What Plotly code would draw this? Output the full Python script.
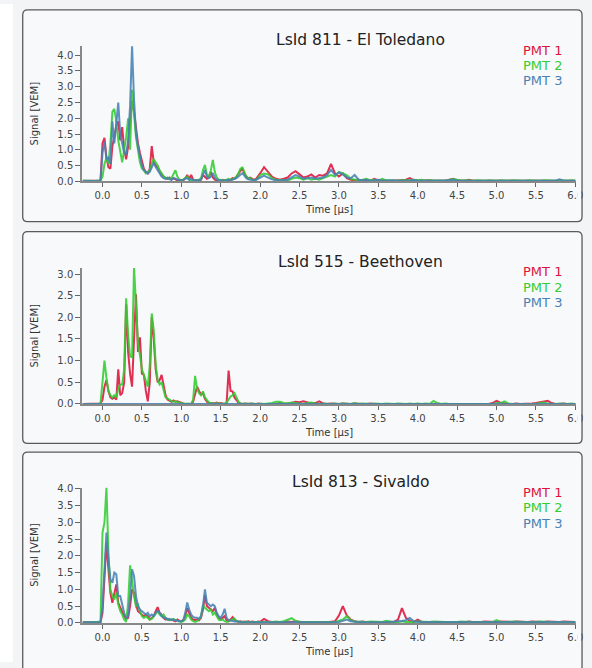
import numpy as np
import plotly.graph_objects as go

W, H = 592, 668

# ---------------- sample times (µs) ----------------
t_fine = np.round(np.arange(-0.25, 2.0 + 1e-9, 0.025), 3)    # 91 samples
t_tail = np.round(np.arange(2.05, 6.0 + 1e-9, 0.05), 3)      # 80 samples
t_all = np.concatenate([t_fine, t_tail])

titles = ["LsId 811 - El Toledano", "LsId 515 - Beethoven", "LsId 813 - Sivaldo"]
pmt_names = ["PMT 1", "PMT 2", "PMT 3"]
x_ticks = [0.0, 0.5, 1.0, 1.5, 2.0, 2.5, 3.0, 3.5, 4.0, 4.5, 5.0, 5.5, 6.0]
x_ticktext = ["0.0", "0.5", "1.0", "1.5", "2.0", "2.5", "3.0", "3.5", "4.0", "4.5", "5.0", "5.5", "6.0"]
y_ticks = [[0.0, 0.5, 1.0, 1.5, 2.0, 2.5, 3.0, 3.5, 4.0],
           [0.0, 0.5, 1.0, 1.5, 2.0, 2.5, 3.0],
           [0.0, 0.5, 1.0, 1.5, 2.0, 2.5, 3.0, 3.5, 4.0]]
y_max = [4.28, 3.14, 4.04]

# ---------------- LsId 811 ----------------
s811_pmt1_fine = [
    0.02, 0.01, 0.02, 0.01, 0.02, 0.01, 0.02, 0.02, 0.01, 0.05,
    1.2, 1.38, 0.75, 0.45, 0.4, 1.1, 1.5, 1.75, 1.9, 1.3,
    1.72, 1.0, 0.7, 1.1, 1.9, 2.55, 2.2, 1.6, 1.2, 0.9,
    0.6, 0.4, 0.3, 0.25, 0.4, 1.12, 0.6, 0.5, 0.45, 0.3,
    0.2, 0.15, 0.1, 0.08, 0.12, 0.05, 0.1, 0.05, 0.03, 0.05,
    0.04, 0.03, 0.1, 0.2, 0.08, 0.2, 0.05, 0.03, 0.02, 0.03,
    0.05, 0.2, 0.15, 0.08, 0.15, 0.3, 0.12, 0.05, 0.03, 0.02,
    0.03, 0.05, 0.03, 0.02, 0.03, 0.05, 0.1, 0.08, 0.15, 0.25,
    0.35, 0.42, 0.25, 0.15, 0.1, 0.12, 0.08, 0.05, 0.08, 0.15,
    0.25]
s811_pmt1_tail = [
    0.45, 0.3, 0.15, 0.08, 0.05, 0.08, 0.12, 0.25, 0.32, 0.22,
    0.12, 0.15, 0.22, 0.12, 0.2, 0.18, 0.25, 0.55, 0.25, 0.15,
    0.25, 0.1, 0.05, 0.03, 0.05, 0.03, 0.05, 0.02, 0.08, 0.03,
    0.02, 0.03, 0.02, 0.02, 0.03, 0.02, 0.05, 0.1, 0.03, 0.02,
    0.03, 0.02, 0.03, 0.02, 0.02, 0.03, 0.02, 0.05, 0.08, 0.03,
    0.02, 0.02, 0.05, 0.02, 0.02, 0.03, 0.02, 0.02, 0.03, 0.02,
    0.02, 0.03, 0.02, 0.02, 0.02, 0.03, 0.02, 0.02, 0.02, 0.03,
    0.02, 0.02, 0.02, 0.03, 0.02, 0.02, 0.02, 0.03, 0.02, 0.02]
s811_pmt2_fine = [
    0.02, 0.01, 0.02, 0.02, 0.01, 0.02, 0.01, 0.02, 0.02, 0.03,
    0.15, 0.55, 0.75, 0.55, 1.2, 2.2, 2.3, 1.9, 1.3, 0.9,
    0.6, 1.0, 1.4, 2.0, 1.0, 2.9, 2.1, 1.4, 1.0, 0.6,
    0.4, 0.35, 0.25, 0.3, 0.35, 0.55, 0.7, 0.6, 0.5, 0.35,
    0.25, 0.15, 0.08, 0.12, 0.08, 0.1, 0.25, 0.35, 0.15, 0.05,
    0.03, 0.05, 0.1, 0.15, 0.05, 0.03, 0.05, 0.03, 0.03, 0.05,
    0.1, 0.35, 0.52, 0.2, 0.15, 0.35, 0.68, 0.3, 0.12, 0.05,
    0.04, 0.05, 0.03, 0.05, 0.08, 0.05, 0.06, 0.1, 0.15, 0.25,
    0.4, 0.44, 0.3, 0.15, 0.08, 0.1, 0.05, 0.03, 0.05, 0.1,
    0.2]
s811_pmt2_tail = [
    0.25, 0.22, 0.1, 0.05, 0.03, 0.05, 0.03, 0.08, 0.12, 0.1,
    0.05, 0.1, 0.05, 0.08, 0.05, 0.1, 0.15, 0.2, 0.15, 0.3,
    0.25, 0.2, 0.08, 0.05, 0.03, 0.05, 0.08, 0.03, 0.05, 0.02,
    0.08, 0.03, 0.02, 0.03, 0.02, 0.03, 0.02, 0.03, 0.05, 0.03,
    0.05, 0.02, 0.03, 0.02, 0.03, 0.02, 0.02, 0.05, 0.07, 0.05,
    0.02, 0.03, 0.02, 0.02, 0.03, 0.02, 0.02, 0.03, 0.02, 0.02,
    0.03, 0.02, 0.02, 0.03, 0.02, 0.02, 0.02, 0.03, 0.02, 0.02,
    0.02, 0.03, 0.02, 0.02, 0.02, 0.03, 0.02, 0.02, 0.03, 0.02]
s811_pmt3_fine = [
    0.01, 0.02, 0.01, 0.02, 0.01, 0.01, 0.02, 0.01, 0.02, 0.02,
    0.9, 1.26, 0.7, 0.75, 0.55, 1.9, 1.2, 2.0, 2.5, 1.5,
    1.2, 0.9, 0.85, 1.3, 2.4, 4.3, 2.6, 1.5, 1.1, 0.8,
    0.5, 0.35, 0.3, 0.25, 0.3, 0.45, 0.58, 0.45, 0.35, 0.25,
    0.15, 0.1, 0.08, 0.1, 0.06, 0.05, 0.1, 0.08, 0.05, 0.03,
    0.03, 0.05, 0.08, 0.1, 0.05, 0.08, 0.04, 0.03, 0.02, 0.03,
    0.05, 0.2, 0.36, 0.15, 0.1, 0.15, 0.26, 0.12, 0.05, 0.03,
    0.02, 0.03, 0.02, 0.03, 0.05, 0.03, 0.05, 0.08, 0.1, 0.15,
    0.22, 0.26, 0.18, 0.1, 0.06, 0.05, 0.03, 0.03, 0.05, 0.08,
    0.12]
s811_pmt3_tail = [
    0.18, 0.12, 0.06, 0.03, 0.02, 0.03, 0.05, 0.12, 0.2, 0.15,
    0.08, 0.1, 0.12, 0.08, 0.1, 0.12, 0.2, 0.36, 0.2, 0.28,
    0.22, 0.12, 0.1, 0.2, 0.05, 0.03, 0.05, 0.02, 0.03, 0.05,
    0.02, 0.03, 0.02, 0.03, 0.02, 0.02, 0.03, 0.02, 0.05, 0.02,
    0.02, 0.03, 0.02, 0.02, 0.02, 0.03, 0.02, 0.03, 0.05, 0.02,
    0.02, 0.02, 0.03, 0.02, 0.02, 0.02, 0.03, 0.02, 0.02, 0.02,
    0.02, 0.03, 0.02, 0.02, 0.02, 0.02, 0.03, 0.02, 0.02, 0.02,
    0.02, 0.03, 0.02, 0.02, 0.02, 0.06, 0.02, 0.02, 0.02, 0.02]

# ---------------- LsId 515 ----------------
s515_pmt1_fine = [
    0, 0, 0, 0, 0, 0, 0, 0, 0, 0.01,
    0.1, 0.4, 0.55, 0.3, 0.15, 0.12, 0.15, 0.1, 0.8, 0.2,
    0.25, 0.5, 2.3, 1.2, 0.7, 0.4, 1.5, 2.53, 1.2, 1.54,
    0.7, 0.67, 0.3, 0.06, 0.5, 2.0, 1.5, 0.8, 0.5, 0.55,
    0.67, 0.4, 0.2, 0.1, 0.08, 0.05, 0.08, 0.05, 0.06, 0.04,
    0.03, 0.01, 0.0, 0.0, 0.01, 0.0, 0.05, 0.25, 0.4, 0.3,
    0.22, 0.25, 0.12, 0.05, 0.03, 0.01, 0.02, 0.01, 0.03, 0.01,
    0.02, 0.01, 0.0, 0.02, 0.77, 0.3, 0.29, 0.15, 0.08, 0.03,
    0.01, 0.0, 0.01, 0.0, 0.0, 0.01, 0.0, 0.0, 0.0, 0.01,
    0.0]
s515_pmt1_tail = [
    0.0, 0.0, 0.01, 0.0, 0.02, 0.0, 0.01, 0.02, 0.05, 0.04,
    0.06, 0.04, 0.01, 0.02, 0.06, 0.01, 0.0, 0.01, 0.0, 0.0,
    0.01, 0.0, 0.0, 0.01, 0.0, 0.0, 0.0, 0.01, 0.0, 0.0,
    0.01, 0.0, 0.0, 0.0, 0.01, 0.0, 0.0, 0.01, 0.0, 0.0,
    0.0, 0.01, 0.0, 0.0, 0.0, 0.01, 0.0, 0.0, 0.0, 0.01,
    0.0, 0.0, 0.01, 0.0, 0.0, 0.0, 0.01, 0.0, 0.02, 0.07,
    0.03, 0.01, 0.0, 0.0, 0.01, 0.0, 0.0, 0.0, 0.01, 0.02,
    0.04, 0.06, 0.07, 0.02, 0.0, 0.0, 0.01, 0.0, 0.0, 0.0]
s515_pmt2_fine = [
    0, 0, 0, 0, 0, 0, 0, 0, 0, 0.02,
    0.5, 1.0, 0.6, 0.3, 0.2, 0.15, 0.2, 0.15, 0.35, 0.45,
    0.45, 0.8, 2.44, 1.6, 1.1, 1.08, 3.17, 2.3, 1.4, 1.12,
    0.8, 0.67, 0.55, 0.4, 0.9, 2.09, 1.7, 0.9, 0.55, 0.45,
    0.5, 0.3, 0.15, 0.12, 0.1, 0.06, 0.05, 0.06, 0.04, 0.03,
    0.02, 0.01, 0.0, 0.01, 0.0, 0.0, 0.1, 0.65, 0.35, 0.25,
    0.2, 0.29, 0.15, 0.08, 0.03, 0.02, 0.01, 0.0, 0.02, 0.0,
    0.01, 0.0, 0.01, 0.03, 0.1, 0.17, 0.2, 0.25, 0.15, 0.05,
    0.01, 0.0, 0.0, 0.01, 0.0, 0.0, 0.01, 0.0, 0.0, 0.0,
    0.01]
s515_pmt2_tail = [
    0.0, 0.01, 0.02, 0.05, 0.05, 0.02, 0.01, 0.03, 0.02, 0.01,
    0.0, 0.02, 0.03, 0.01, 0.0, 0.01, 0.0, 0.0, 0.01, 0.0,
    0.01, 0.0, 0.0, 0.02, 0.0, 0.01, 0.0, 0.0, 0.01, 0.0,
    0.0, 0.01, 0.0, 0.0, 0.01, 0.0, 0.0, 0.01, 0.0, 0.01,
    0.0, 0.01, 0.0, 0.07, 0.02, 0.0, 0.01, 0.0, 0.0, 0.01,
    0.0, 0.01, 0.0, 0.0, 0.01, 0.0, 0.0, 0.01, 0.0, 0.02,
    0.02, 0.06, 0.01, 0.0, 0.0, 0.01, 0.0, 0.0, 0.01, 0.0,
    0.02, 0.03, 0.01, 0.0, 0.0, 0.01, 0.0, 0.0, 0.01, 0.0]
s515_pmt3_fine = [
    0, 0, 0, 0, 0, 0, 0, 0, 0, 0,
    0, 0, 0, 0, 0, 0, 0, 0, 0, 0,
    0, 0, 0, 0, 0, 0, 0, 0, 0, 0,
    0, 0, 0, 0, 0, 0, 0, 0, 0, 0,
    0, 0, 0, 0, 0, 0, 0, 0, 0, 0,
    0, 0, 0, 0, 0, 0, 0, 0, 0, 0,
    0, 0, 0, 0, 0, 0, 0, 0, 0, 0,
    0, 0, 0, 0, 0, 0, 0, 0, 0, 0,
    0, 0, 0, 0, 0, 0, 0, 0, 0, 0,
    0]
s515_pmt3_tail = [
    0, 0, 0, 0, 0, 0, 0, 0, 0, 0,
    0, 0, 0, 0, 0, 0, 0, 0, 0, 0,
    0, 0, 0, 0, 0, 0, 0, 0, 0, 0,
    0, 0, 0, 0, 0, 0, 0, 0, 0, 0,
    0, 0, 0, 0, 0, 0, 0, 0, 0, 0,
    0, 0, 0, 0, 0, 0, 0, 0, 0, 0,
    0, 0, 0, 0, 0, 0, 0, 0, 0, 0,
    0, 0, 0, 0, 0, 0, 0, 0, 0, 0]

# ---------------- LsId 813 ----------------
s813_pmt1_fine = [
    0.02, 0.03, 0.02, 0.03, 0.02, 0.03, 0.02, 0.02, 0.03, 0.02,
    0.3, 1.5, 2.4, 1.6, 0.9, 0.6, 0.85, 1.15, 0.6, 0.45,
    0.3, 0.2, 0.12, 0.15, 0.5, 1.0, 0.9, 0.55, 0.35, 0.3,
    0.25, 0.2, 0.25, 0.2, 0.1, 0.15, 0.2, 0.35, 0.47, 0.3,
    0.25, 0.15, 0.1, 0.12, 0.08, 0.1, 0.08, 0.05, 0.1, 0.06,
    0.05, 0.08, 0.2, 0.44, 0.3, 0.15, 0.1, 0.08, 0.1, 0.08,
    0.15, 0.4, 0.83, 0.5, 0.45, 0.4, 0.35, 0.45, 0.25, 0.15,
    0.1, 0.15, 0.2, 0.08, 0.05, 0.1, 0.17, 0.08, 0.05, 0.03,
    0.05, 0.03, 0.04, 0.03, 0.05, 0.03, 0.04, 0.03, 0.02, 0.04,
    0.03]
s813_pmt1_tail = [
    0.12, 0.05, 0.03, 0.04, 0.03, 0.02, 0.04, 0.03, 0.05, 0.03,
    0.04, 0.03, 0.02, 0.03, 0.04, 0.03, 0.02, 0.03, 0.05, 0.22,
    0.5, 0.22, 0.1, 0.05, 0.03, 0.04, 0.02, 0.03, 0.04, 0.03,
    0.02, 0.03, 0.04, 0.03, 0.1, 0.44, 0.15, 0.06, 0.03, 0.1,
    0.03, 0.04, 0.03, 0.02, 0.03, 0.04, 0.03, 0.02, 0.03, 0.04,
    0.03, 0.02, 0.04, 0.03, 0.02, 0.03, 0.04, 0.03, 0.02, 0.03,
    0.04, 0.03, 0.02, 0.03, 0.04, 0.03, 0.02, 0.03, 0.04, 0.03,
    0.02, 0.03, 0.04, 0.03, 0.02, 0.03, 0.04, 0.03, 0.02, 0.03]
s813_pmt2_fine = [
    0.02, 0.03, 0.02, 0.02, 0.03, 0.02, 0.03, 0.02, 0.03, 0.05,
    2.7, 3.0, 4.05, 2.1, 1.0, 0.8, 0.7, 0.9, 0.55, 0.35,
    0.25, 0.1, 0.03, 0.6, 1.72, 1.2, 0.8, 0.5, 0.55, 0.35,
    0.2, 0.15, 0.2, 0.15, 0.1, 0.12, 0.2, 0.3, 0.35, 0.25,
    0.2, 0.25, 0.15, 0.1, 0.08, 0.1, 0.12, 0.08, 0.05, 0.04,
    0.03, 0.05, 0.1, 0.25, 0.2, 0.1, 0.05, 0.03, 0.05, 0.1,
    0.2, 0.54, 0.45, 0.4, 0.35, 0.4, 0.25, 0.3, 0.2, 0.1,
    0.08, 0.1, 0.05, 0.03, 0.05, 0.08, 0.1, 0.13, 0.06, 0.03,
    0.02, 0.03, 0.02, 0.04, 0.02, 0.03, 0.02, 0.03, 0.02, 0.03,
    0.02]
s813_pmt2_tail = [
    0.03, 0.02, 0.03, 0.04, 0.03, 0.05, 0.1, 0.14, 0.06, 0.03,
    0.02, 0.03, 0.04, 0.03, 0.02, 0.03, 0.04, 0.03, 0.02, 0.05,
    0.1, 0.2, 0.08, 0.04, 0.03, 0.02, 0.03, 0.04, 0.03, 0.02,
    0.03, 0.06, 0.03, 0.02, 0.03, 0.05, 0.03, 0.02, 0.03, 0.04,
    0.03, 0.02, 0.03, 0.04, 0.03, 0.02, 0.03, 0.03, 0.02, 0.03,
    0.04, 0.03, 0.02, 0.03, 0.02, 0.03, 0.04, 0.03, 0.02, 0.08,
    0.03, 0.02, 0.03, 0.04, 0.03, 0.02, 0.03, 0.03, 0.02, 0.03,
    0.04, 0.03, 0.02, 0.03, 0.02, 0.03, 0.04, 0.03, 0.02, 0.03]
s813_pmt3_fine = [
    0.02, 0.02, 0.03, 0.02, 0.02, 0.03, 0.02, 0.02, 0.03, 0.02,
    0.5, 1.8, 2.7, 1.9, 1.3, 1.2, 1.5, 1.45, 0.8, 0.8,
    0.5, 0.3, 0.15, 0.2, 0.8, 1.6, 1.4, 0.8, 0.5, 0.4,
    0.35, 0.3, 0.25, 0.3, 0.2, 0.25, 0.2, 0.3, 0.35, 0.3,
    0.2, 0.15, 0.15, 0.1, 0.12, 0.08, 0.1, 0.08, 0.06, 0.05,
    0.05, 0.08, 0.3, 0.61, 0.4, 0.25, 0.18, 0.15, 0.15, 0.12,
    0.2, 0.5, 1.0, 0.6, 0.55, 0.5, 0.55, 0.5, 0.3, 0.2,
    0.15, 0.25, 0.42, 0.15, 0.08, 0.06, 0.05, 0.04, 0.05, 0.03,
    0.03, 0.02, 0.03, 0.02, 0.02, 0.03, 0.02, 0.02, 0.03, 0.02,
    0.02]
s813_pmt3_tail = [
    0.02, 0.03, 0.02, 0.02, 0.03, 0.02, 0.02, 0.03, 0.02, 0.02,
    0.03, 0.02, 0.02, 0.03, 0.02, 0.02, 0.03, 0.02, 0.02, 0.03,
    0.06, 0.1, 0.05, 0.03, 0.02, 0.02, 0.03, 0.02, 0.02, 0.03,
    0.02, 0.02, 0.03, 0.02, 0.03, 0.06, 0.08, 0.15, 0.05, 0.03,
    0.02, 0.03, 0.02, 0.02, 0.03, 0.02, 0.02, 0.03, 0.02, 0.02,
    0.03, 0.02, 0.02, 0.03, 0.02, 0.02, 0.03, 0.02, 0.02, 0.03,
    0.02, 0.02, 0.03, 0.02, 0.02, 0.03, 0.02, 0.02, 0.03, 0.02,
    0.02, 0.03, 0.02, 0.02, 0.03, 0.02, 0.02, 0.03, 0.02, 0.02]

stations = [
    [s811_pmt1_fine + s811_pmt1_tail, s811_pmt2_fine + s811_pmt2_tail, s811_pmt3_fine + s811_pmt3_tail],
    [s515_pmt1_fine + s515_pmt1_tail, s515_pmt2_fine + s515_pmt2_tail, s515_pmt3_fine + s515_pmt3_tail],
    [s813_pmt1_fine + s813_pmt1_tail, s813_pmt2_fine + s813_pmt2_tail, s813_pmt3_fine + s813_pmt3_tail],
]

# ---------------- styling / layout (pixel geometry) ----------------
colors = ["#dc143c", "#32cd32", "#4682b4"]
PAGE_BG = "#f3f4f6"
BOX_BG = "#f8f9fb"
FONT = "DejaVu Sans"

plot_left, plot_right = 83, 583
plot_tops = [43, 268, 491]
plot_bottoms = [180, 406, 628.3]
boxes = [(23, 6, 589, 221), (23, 231, 589, 446), (23, 455, 589, 690)]
title_y = [37, 262, 485]
legend_y = [[47, 62.5, 78], [272, 287.5, 303], [496, 511.5, 527]]


def fx(px):
    return px / W


def fy(py):
    return 1 - py / H


def rrect(x0, y0, x1, y1, r):
    pts = [
        ("M", [(x0 + r, y0)]), ("L", [(x1 - r, y0)]), ("Q", [(x1, y0), (x1, y0 + r)]),
        ("L", [(x1, y1 - r)]), ("Q", [(x1, y1), (x1 - r, y1)]),
        ("L", [(x0 + r, y1)]), ("Q", [(x0, y1), (x0, y1 - r)]),
        ("L", [(x0, y0 + r)]), ("Q", [(x0, y0), (x0 + r, y0)]),
    ]
    s = ""
    for cmd, ps in pts:
        s += cmd + " " + " ".join(f"{fx(a):.5f},{fy(b):.5f}" for a, b in ps) + " "
    return s + "Z"


fig = go.Figure()
layout = dict(
    width=W, height=H, margin=dict(l=0, r=0, t=0, b=0),
    paper_bgcolor=PAGE_BG, plot_bgcolor="rgba(0,0,0,0)",
    showlegend=False, font=dict(family=FONT, color="#444", size=10),
)
shapes = [dict(type="rect", xref="paper", yref="paper", x0=0, x1=fx(13), y0=0, y1=1,
               fillcolor="#ffffff", line=dict(width=0), layer="below")]
annotations = []

for k in range(3):
    xa = "xaxis" if k == 0 else f"xaxis{k+1}"
    ya = "yaxis" if k == 0 else f"yaxis{k+1}"
    xr = "x" if k == 0 else f"x{k+1}"
    yr = "y" if k == 0 else f"y{k+1}"
    layout[xa] = dict(
        domain=[fx(plot_left), fx(plot_right)], anchor=yr, range=[-0.26, 6.01],
        tickvals=x_ticks, ticktext=x_ticktext, ticks="outside", ticklen=4, tickwidth=1,
        tickcolor="#666", showline=True, linecolor="#888", linewidth=1.5,
        showgrid=False, zeroline=False, tickfont=dict(family=FONT, size=10, color="#444"),
        fixedrange=True,
    )
    layout[ya] = dict(
        domain=[fy(plot_bottoms[k]), fy(plot_tops[k])], anchor=xr, range=[0, y_max[k]],
        tickvals=y_ticks[k], ticktext=[f"{v:.1f}" for v in y_ticks[k]], ticks="outside",
        ticklen=5, tickwidth=1, tickcolor="#666", showline=True, linecolor="#888",
        linewidth=1.5, showgrid=False, zeroline=False,
        tickfont=dict(family=FONT, size=10, color="#444"), fixedrange=True,
    )
    for j in range(3):
        fig.add_trace(go.Scatter(
            x=t_all, y=stations[k][j], mode="lines", xaxis=xr, yaxis=yr,
            line=dict(color=colors[j], width=2.0), opacity=0.88, name=pmt_names[j],
            hoverinfo="skip",
        ))
    x0, y0, x1, y1 = boxes[k]
    shapes.append(dict(type="path", xref="paper", yref="paper", path=rrect(x0, y0, x1, y1, 5),
                       fillcolor=BOX_BG, line=dict(width=0), layer="below"))
    # clip the last tick label like the original svg viewport
    ab = plot_bottoms[k]
    shapes.append(dict(type="rect", xref="paper", yref="paper", x0=fx(584.3), x1=fx(588.2),
                       y0=fy(ab + 22), y1=fy(ab + 5), fillcolor=BOX_BG, line=dict(width=0),
                       layer="above"))
    shapes.append(dict(type="path", xref="paper", yref="paper", path=rrect(x0, y0, x1, y1, 5),
                       fillcolor="rgba(0,0,0,0)", line=dict(color="#5a5a5a", width=1.3),
                       layer="above"))
    annotations.append(dict(xref="paper", yref="paper", x=fx(365), y=fy(title_y[k]),
                            text=titles[k], showarrow=False, xanchor="center", yanchor="middle",
                            font=dict(family=FONT, size=15.5, color="#222")))
    for j in range(3):
        annotations.append(dict(xref="paper", yref="paper", x=fx(571), y=fy(legend_y[k][j]),
                                text=pmt_names[j], showarrow=False, xanchor="right",
                                yanchor="middle",
                                font=dict(family=FONT, size=13, color=colors[j])))
    annotations.append(dict(xref="paper", yref="paper", x=fx(35),
                            y=fy((plot_tops[k] + plot_bottoms[k]) / 2), text="Signal [VEM]",
                            textangle=-90, showarrow=False, xanchor="center", yanchor="middle",
                            font=dict(family=FONT, size=10, color="#333")))
    annotations.append(dict(xref="paper", yref="paper", x=fx(333), y=fy(ab + 29),
                            text="Time [µs]", showarrow=False, xanchor="center",
                            yanchor="middle", font=dict(family=FONT, size=10, color="#333")))

layout["shapes"] = shapes
layout["annotations"] = annotations
fig.update_layout(**layout)

# remove the default 8px page margin so the figure sits at the window origin
post = "document.body.style.margin='0px'; document.body.style.overflow='hidden';"
fig.write_html("out.html", config={"displayModeBar": False}, post_script=post)
